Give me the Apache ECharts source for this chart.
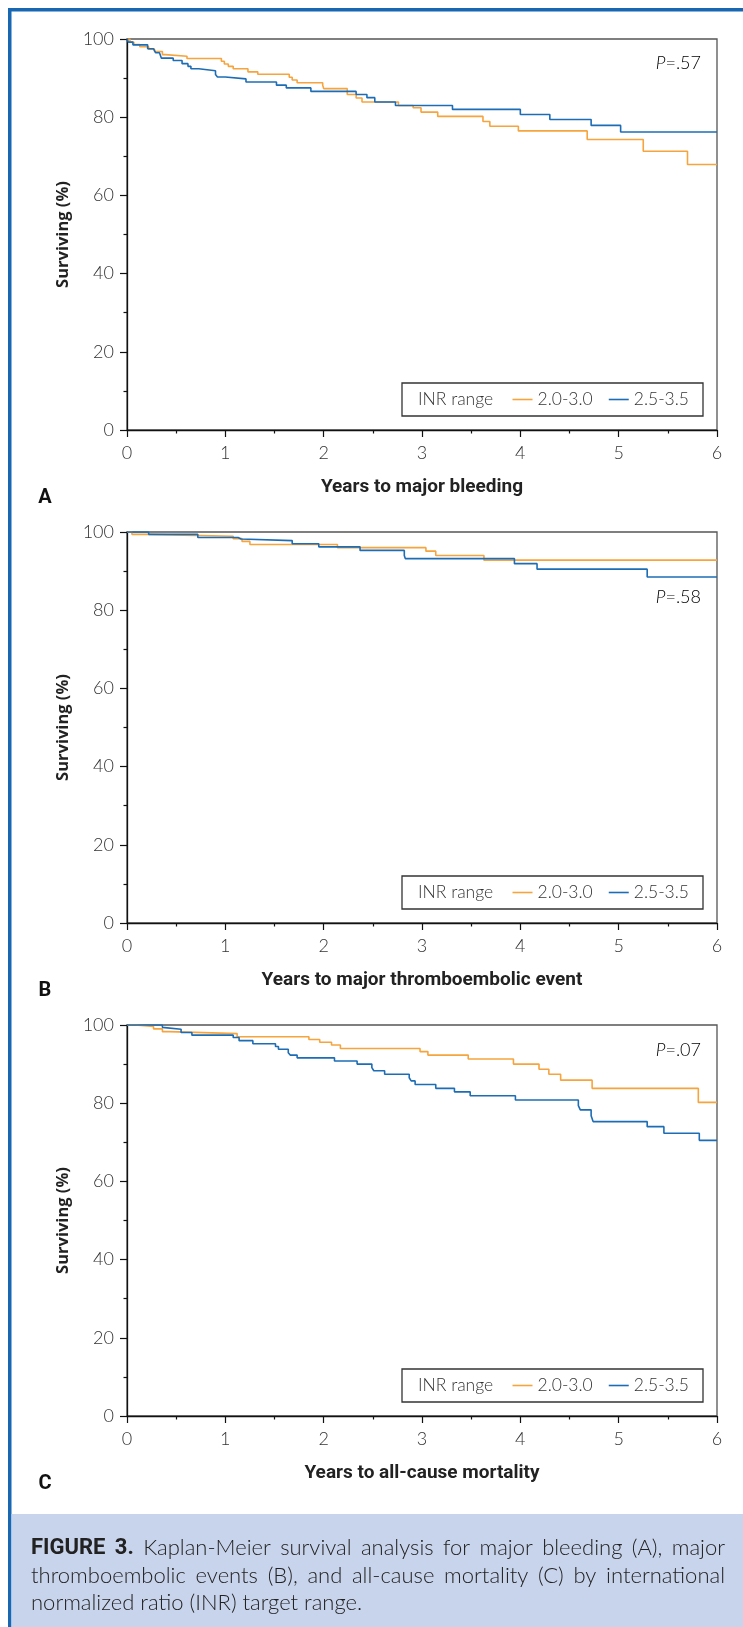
<!DOCTYPE html>
<html>
<head>
<meta charset="utf-8">
<script src="https://cdn.jsdelivr.net/npm/echarts@6/dist/echarts.min.js"></script>
<style>
html, body { margin: 0; padding: 0; background: #fff; }
#main { width: 743px; height: 1627px; }
</style>
</head>
<body>
<div id="main"></div>
<script>
// INR target groups
var groupNames = ['2.0-3.0', '2.5-3.5'];
var xTitles = ['Years to major bleeding', 'Years to major thromboembolic event', 'Years to all-cause mortality'];
var panelLetters = ['A', 'B', 'C'];
var pValues = ['=.57', '=.58', '=.07'];
var yTicks = [0, 20, 40, 60, 80, 100];

// [years, surviving %] after each step
var bleedLow = [[0,100],[0.03,99.2],[0.07,98.6],[0.13,98.0],[0.22,97.4],[0.28,96.8],[0.36,96.0],[0.39,95.6],[0.61,95.0],
    [0.96,94.3],[0.99,93.6],[1.03,93.0],[1.08,92.4],[1.23,91.6],[1.33,91.0],[1.65,90.2],[1.68,89.5],[1.73,88.8],
    [1.99,88.2],[2.0,87.3],[2.24,85.8],[2.33,84.9],[2.39,83.9],[2.76,83.0],[2.91,82.4],[2.99,81.3],[3.16,80.2],
    [3.62,78.9],[3.69,77.7],[3.98,76.5],[4.68,74.3],[5.25,71.3],[5.70,67.9],[6,67.9]];
var bleedHigh = [[0,100],[0.014,99.2],[0.06,98.5],[0.21,97.5],[0.27,97.0],[0.29,96.5],[0.33,96.0],[0.35,95.1],[0.47,94.5],
    [0.56,93.7],[0.62,93.0],[0.65,92.4],[0.73,91.9],[0.90,90.9],[0.92,90.3],[1.0,89.8],[1.21,89.0],[1.52,88.2],
    [1.62,87.5],[1.87,86.6],[2.33,85.8],[2.44,85.0],[2.52,83.9],[2.73,83.0],[3.31,82.0],[4.0,80.7],[4.30,79.4],
    [4.72,77.9],[5.02,76.2],[6,76.2]];

var teLow = [[0,100],[0.05,99.4],[0.2,98.9],[1.08,98.3],[1.17,97.6],[1.25,96.8],[2.14,96.0],[3.04,95.1],[3.14,94.0],
    [3.63,92.8],[6,92.8]];
var teHigh = [[0,100],[0.22,99.4],[0.72,98.6],[1.13,98.2],[1.16,97.8],[1.68,97.0],[1.95,96.2],[2.37,95.3],[2.82,94.0],
    [2.83,93.2],[3.94,91.9],[4.17,90.5],[5.29,88.5],[6,88.5]];

var mortLow = [[0,100],[0.08,99.6],[0.27,99.0],[0.36,98.3],[0.43,97.8],[1.12,97.0],[1.85,96.3],[1.96,95.6],[2.08,94.9],
    [2.17,94.0],[2.98,93.2],[3.06,92.3],[3.47,91.3],[3.93,90.0],[4.19,88.7],[4.29,87.4],[4.41,85.9],[4.73,83.8],
    [5.81,80.2],[6,80.2]];
var mortHigh = [[0,100],[0.36,99.4],[0.38,98.9],[0.55,98.1],[0.66,97.4],[1.08,96.8],[1.14,96.0],[1.28,95.2],[1.51,94.5],
    [1.54,93.8],[1.64,92.9],[1.66,92.3],[1.73,91.6],[2.11,90.8],[2.34,90.0],[2.49,89.1],[2.51,88.3],[2.62,87.4],
    [2.87,86.5],[2.89,85.7],[2.93,84.8],[3.14,83.8],[3.33,82.9],[3.49,81.9],[3.95,80.8],[4.59,79.4],[4.61,78.3],
    [4.72,76.8],[4.74,75.3],[5.29,74.0],[5.46,72.3],[5.82,70.5],[6,70.5]];

var panels = [[bleedLow, bleedHigh], [teLow, teHigh], [mortLow, mortHigh]];

var captionLines = [
    'FIGURE 3. Kaplan-Meier survival analysis for major bleeding (A), major',
    'thromboembolic events (B), and all-cause mortality (C) by international',
    'normalized ratio (INR) target range.'
];

var orange = '#F6A43E', blue = '#1C6DB5';
var lightFont = 'Lato';
var gridLeft = 127, gridW = 590, gridH = 391;
var gridTops = [39, 532, 1025];
var pValueY = [63, 597, 1050];

var myChart = echarts.init(document.getElementById('main'));

var grids = [], xAxes = [], yAxes = [], series = [], legends = [], graphics = [];

// page frame + caption box
graphics.push({ type: 'rect', shape: { x: 8, y: 8, width: 735, height: 3.5 }, style: { fill: '#1767B3' } });
graphics.push({ type: 'rect', shape: { x: 8, y: 8, width: 3.5, height: 1619 }, style: { fill: '#1767B3' } });
graphics.push({ type: 'rect', shape: { x: 11.5, y: 1514, width: 732, height: 113 }, style: { fill: '#C8D4EB' } });

panels.forEach(function (p, i) {
    var top = gridTops[i];
    var bottom = top + gridH;
    grids.push({ left: gridLeft, top: top, width: gridW, height: gridH, show: true,
        borderColor: '#555', borderWidth: 1.3, backgroundColor: 'transparent' });
    xAxes.push({
        gridIndex: i, type: 'value', min: 0, max: 6, interval: 1,
        name: xTitles[i], nameLocation: 'middle', nameGap: 48,
        nameTextStyle: { fontFamily: 'Roboto', fontWeight: 'bold', fontSize: 19, color: '#222' },
        axisLine: { lineStyle: { color: '#111', width: 1.3 } },
        axisTick: { length: 7, lineStyle: { color: '#111', width: 1.2 } },
        minorTick: { show: true, splitNumber: 2, length: 3.5, lineStyle: { color: '#111', width: 1.2 } },
        axisLabel: { margin: 14, fontSize: 18, fontFamily: lightFont, fontWeight: 300, color: '#333' },
        splitLine: { show: false }
    });
    yAxes.push({
        gridIndex: i, type: 'value', min: yTicks[0], max: yTicks[yTicks.length - 1], interval: 20,
        name: 'Surviving (%)', nameLocation: 'middle', nameGap: 52,
        nameTextStyle: { fontFamily: 'Open Sans', fontWeight: 'bold', fontSize: 16.5, color: '#222' },
        axisLine: { lineStyle: { color: '#111', width: 1.3 } },
        axisTick: { length: 7, lineStyle: { color: '#111', width: 1.2 } },
        minorTick: { show: true, splitNumber: 2, length: 3.5, lineStyle: { color: '#111', width: 1.2 } },
        axisLabel: { margin: 13, fontSize: 18, fontFamily: lightFont, fontWeight: 300, color: '#333' },
        splitLine: { show: false }
    });
    [orange, blue].forEach(function (c, k) {
        series.push({
            name: groupNames[k], type: 'line', step: 'end', xAxisIndex: i, yAxisIndex: i,
            data: p[k], symbol: 'none', silent: true, z: 2 + k,
            lineStyle: { color: c, width: 1.6 }, itemStyle: { color: c }
        });
    });

    // legend box with title
    var boxY = bottom - 14 - 33;
    graphics.push({ type: 'rect', shape: { x: 402, y: boxY, width: 301, height: 33 },
        style: { fill: '#fff', stroke: '#333', lineWidth: 1.3 }, z: 10 });
    graphics.push({ type: 'text', x: 418, y: boxY + 16.5, z: 11,
        style: { text: 'INR range', font: '300 17.5px Lato', fill: '#333', textAlign: 'left', textVerticalAlign: 'middle' } });
    legends.push({
        data: groupNames, right: 54, top: boxY + 7.5, padding: 0, itemGap: 16,
        itemWidth: 20, itemHeight: 1.6, icon: 'rect', selectedMode: false, z: 12,
        textStyle: { fontFamily: lightFont, fontWeight: 300, fontSize: 17.5, color: '#333', lineHeight: 18 }
    });

    // P value
    graphics.push({ type: 'text', x: 701, y: pValueY[i], z: 11,
        style: { text: '{i|P}{r|' + pValues[i] + '}', textAlign: 'right', textVerticalAlign: 'middle',
            rich: { i: { fontFamily: lightFont, fontWeight: 300, fontStyle: 'italic', fontSize: 18, color: '#333' },
                    r: { fontFamily: lightFont, fontWeight: 300, fontSize: 18, color: '#333' } } } });
    // panel letter
    graphics.push({ type: 'text', x: 45, y: bottom + 68, z: 11,
        style: { text: panelLetters[i], font: 'bold 20px Roboto', fill: '#111', textAlign: 'center', textVerticalAlign: 'middle' } });
});

// justified caption
var ctx = document.createElement('canvas').getContext('2d');
var capFont = '300 22px Lato', capBold = 'bold 22px Roboto';
captionLines.forEach(function (line, li) {
    var words = line.split(' ');
    var fonts = words.map(function (w, wi) { return (li === 0 && wi < 2) ? capBold : capFont; });
    var widths = words.map(function (w, wi) { ctx.font = fonts[wi]; return ctx.measureText(w).width; });
    var total = widths.reduce(function (a, b) { return a + b; }, 0);
    ctx.font = capFont;
    var gap = li < captionLines.length - 1 ? (725 - 31 - total) / (words.length - 1) : ctx.measureText(' ').width;
    var x = 31;
    words.forEach(function (w, wi) {
        graphics.push({ type: 'text', x: x, y: 1548 + li * 27.5, z: 11,
            style: { text: w, font: fonts[wi], fill: '#222', textAlign: 'left', textVerticalAlign: 'middle' } });
        x += widths[wi] + gap;
    });
});

option = {
    backgroundColor: '#fff',
    animation: false,
    grid: grids,
    xAxis: xAxes,
    yAxis: yAxes,
    legend: legends,
    series: series,
    graphic: graphics
};
myChart.setOption(option);
</script>
</body>
</html>
